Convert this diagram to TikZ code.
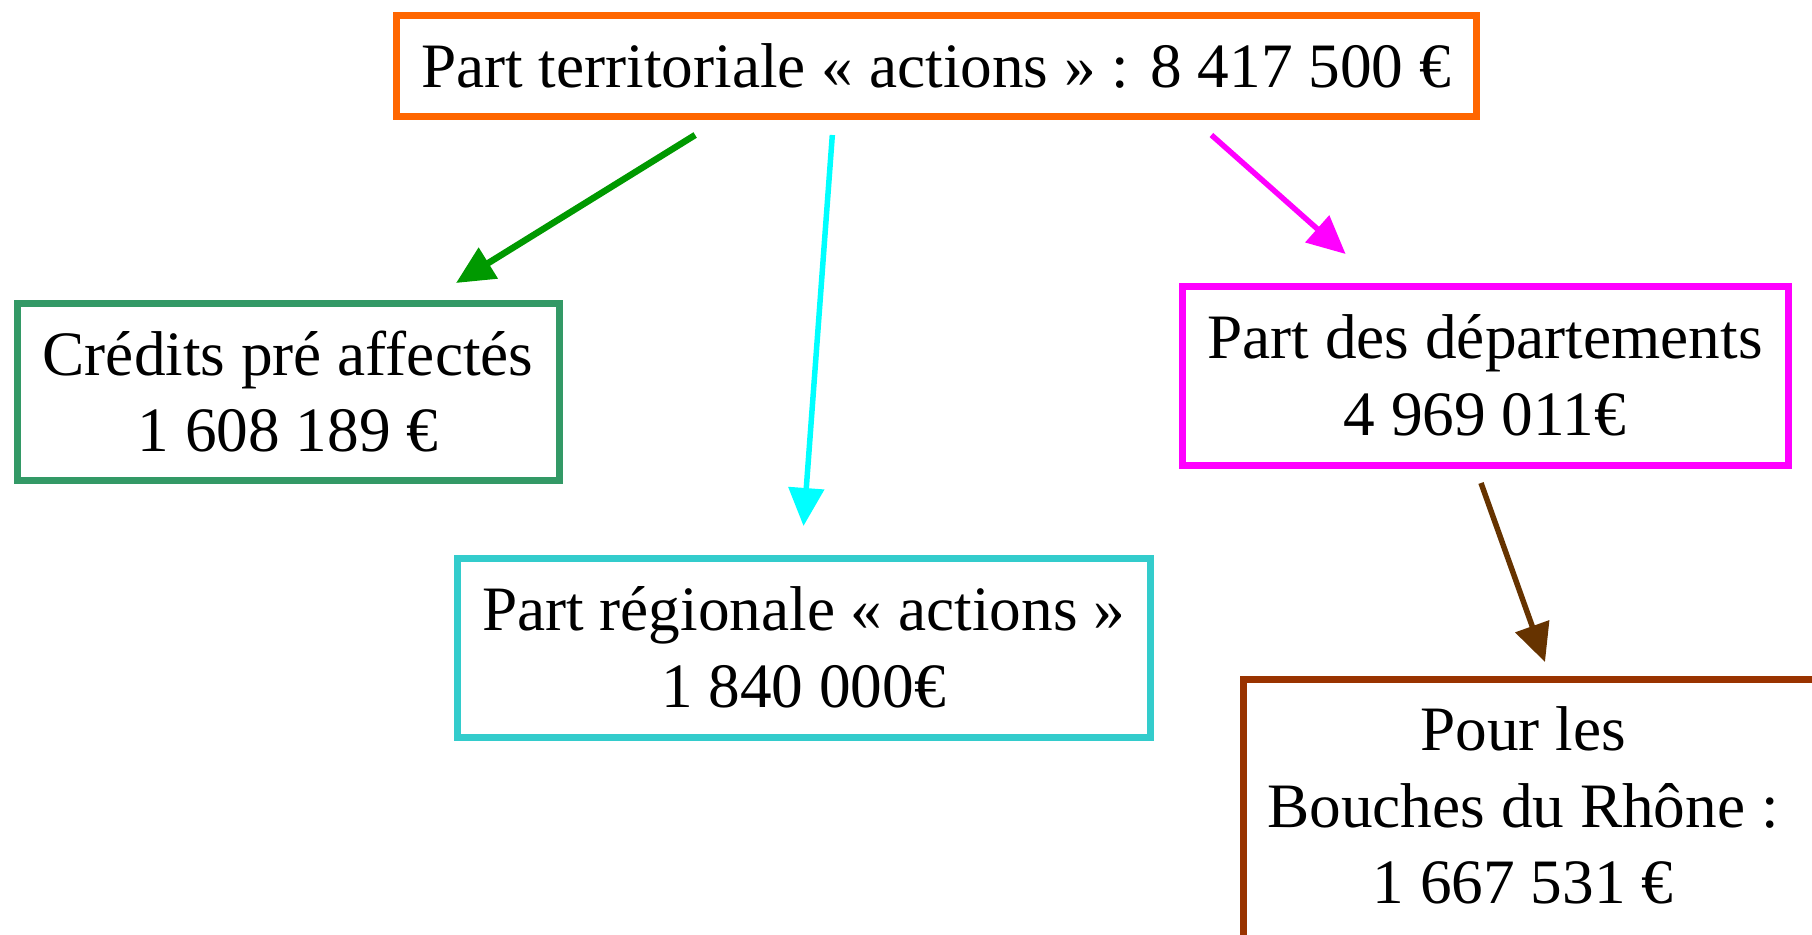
\documentclass[tikz,border=0pt]{standalone}
\usepackage{fontspec}
\setmainfont{Liberation Serif}
\usetikzlibrary{arrows.meta,positioning,calc}

\definecolor{TopOrange}{HTML}{FF6600}
\definecolor{CreditGreen}{HTML}{339966}
\definecolor{CreditArrow}{HTML}{009900}
\definecolor{RegionCyan}{HTML}{33CCCC}
\definecolor{RegionArrow}{HTML}{00FFFF}
\definecolor{DeptMagenta}{HTML}{FF00FF}
\definecolor{BdrBrown}{HTML}{993300}
\definecolor{BdrArrow}{HTML}{663300}

\begin{document}
\begin{tikzpicture}[
  >={Triangle[length=3.8mm,width=3.5mm]},
  font=\fontsize{18}{21.8}\selectfont,
  % framed amount box
  box/.style = {
    draw, line width=0.7mm,
    align=center,
    inner sep=0pt, outer sep=0pt,
    fill=white
  },
  arr/.style = {->, line width=0.55mm}
]

% ---- page ----
\useasboundingbox (0,0) rectangle (181.2mm,-93.5mm);

% ---- nodes ----
% Top: total
\node[box, draw=TopOrange, minimum width=108mm, minimum height=10.1mm] (top) at (93.6mm,-6.55mm)
  {Part territoriale « actions » : 8 417 500 €};

% Left: pre-assigned credits
\node[box, draw=CreditGreen, minimum width=54.2mm, minimum height=17.7mm,
  below=18.7mm of top.south west, xshift=-10.8mm] (credits)
  {Crédits pré affectés\\1 608 189 €};

% Middle: regional share
\node[box, draw=RegionCyan, minimum width=69.3mm, minimum height=17.9mm,
  below=44.2mm of top.south, xshift=-13.25mm] (region)
  {Part régionale « actions »\\1 840 000€};

% Right: departments
\node[box, draw=DeptMagenta, minimum width=60.6mm, minimum height=17.9mm,
  below=17mm of top.south east, xshift=0.9mm] (depts)
  {Part des départements\\4 969 011€};

% Bottom right: Bouches du Rhône (runs off the page)
\node[box, draw=BdrBrown, minimum width=62mm, minimum height=26.6mm,
  below=21.4mm of depts.south, xshift=6.8mm] (bdr)
  {\begin{tabular}{@{}c@{}}Pour les\\Bouches du Rhône :\\1 667 531 €\end{tabular}\hspace{6mm}};

% ---- arrows ----
\draw[arr, CreditArrow, line width=0.65mm]
  ($(top.south west)!0.277!(top.south east)+(0,-1.9mm)$) --
  ($(credits.north west)!0.81!(credits.north east)+(0,2mm)$);
\draw[arr, RegionArrow]
  ($(top.south west)!0.404!(top.south east)+(0,-1.9mm)$) --
  ($(region.north)+(0,3.2mm)$);
\draw[arr, DeptMagenta]
  ($(top.south west)!0.755!(top.south east)+(0,-1.9mm)$) --
  ($(depts.north west)!0.27!(depts.north east)+(0,3.2mm)$);
\draw[arr, BdrArrow]
  ($(depts.south)+(-0.4mm,-1.8mm)$) --
  ($(bdr.north)+(-0.8mm,1.7mm)$);

\end{tikzpicture}
\end{document}
